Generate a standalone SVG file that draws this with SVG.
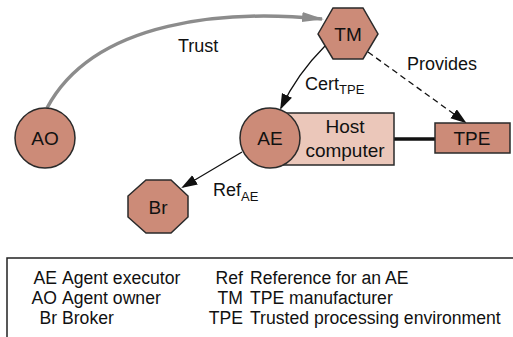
<svg xmlns="http://www.w3.org/2000/svg" width="513" height="337" viewBox="0 0 513 337">
<style>
  text { font-family: "Liberation Sans", Arial, sans-serif; fill: #111; }
  .node { fill: #cc8b78; stroke: #2a2a2a; stroke-width: 1.5; }
  .host { fill: #ebc7ba; stroke: #2a2a2a; stroke-width: 1.5; }
  .nl { font-size: 19px; text-anchor: middle; }
  .lbl { font-size: 18px; }
  .sub { font-size: 13px; }
  .leg { font-size: 17.6px; }
  .abbr { font-size: 17.6px; text-anchor: end; }
  .edge { fill: none; stroke: #111; stroke-width: 1.3; }
</style>
<defs>
  <marker id="ah" markerUnits="userSpaceOnUse" markerWidth="16" markerHeight="12" refX="14" refY="5.5" orient="auto">
    <path d="M0,0 L16,5.5 L0,11 z" fill="#111"/>
  </marker>
  <marker id="ahg" markerUnits="userSpaceOnUse" markerWidth="22" markerHeight="12" refX="20" refY="5" orient="auto">
    <path d="M0,0 L22,5 L0,10 z" fill="#8c8c8c"/>
  </marker>
</defs>

<g id="connectors">
  <path id="trust" d="M47,108 C95,18 230,10 322,19" fill="none" stroke="#8c8c8c" stroke-width="3.5" marker-end="url(#ahg)"/>
  <path id="cert" class="edge" d="M325,46 Q297,74 281,108" marker-end="url(#ah)"/>
  <path id="provides" class="edge" d="M368,52 L465,122" stroke-dasharray="6,4" marker-end="url(#ah)"/>
  <path id="ref" class="edge" d="M242,152 L183,187" marker-end="url(#ah)"/>
  <line id="host-tpe" x1="394" y1="139" x2="435" y2="139" stroke="#111" stroke-width="3.5"/>
</g>

<g id="labels">
  <text class="lbl" x="178" y="52">Trust</text>
  <text class="lbl" x="305" y="90">Cert<tspan class="sub" dy="4">TPE</tspan></text>
  <text class="lbl" x="407" y="70">Provides</text>
  <text class="lbl" x="213" y="196">Ref<tspan class="sub" dy="5">AE</tspan></text>
</g>

<g id="host">
  <rect class="host" x="283" y="113" width="111" height="52"/>
  <text class="nl" x="345" y="133">Host</text>
  <text class="nl" x="345" y="157">computer</text>
</g>

<g id="AO">
  <circle class="node" cx="45" cy="138" r="30"/>
  <text class="nl" x="45" y="145">AO</text>
</g>

<g id="AE">
  <circle class="node" cx="270" cy="138" r="30"/>
  <text class="nl" x="270" y="145">AE</text>
</g>

<g id="TM">
  <polygon class="node" points="318,34 333,8 363,8 378,34 363,59 333,59"/>
  <text class="nl" x="348" y="41">TM</text>
</g>

<g id="TPE">
  <rect class="node" x="435" y="123" width="75" height="30"/>
  <text class="nl" x="472" y="145">TPE</text>
</g>

<g id="Br">
  <polygon class="node" points="146,180 171,180 188,196 188,217 171,233 146,233 128,217 128,196"/>
  <text class="nl" x="158" y="214">Br</text>
</g>

<g id="legend">
  <path d="M7,337 L7,258 L513,258" fill="none" stroke="#222" stroke-width="1.5"/>
  <text class="abbr" x="57" y="284">AE</text>
  <text class="leg" x="62" y="284">Agent executor</text>
  <text class="abbr" x="57" y="304">AO</text>
  <text class="leg" x="62" y="304">Agent owner</text>
  <text class="abbr" x="57" y="324">Br</text>
  <text class="leg" x="62" y="324">Broker</text>
  <text class="abbr" x="243" y="284">Ref</text>
  <text class="leg" x="250" y="284">Reference for an AE</text>
  <text class="abbr" x="243" y="304">TM</text>
  <text class="leg" x="250" y="304">TPE manufacturer</text>
  <text class="abbr" x="243" y="324">TPE</text>
  <text class="leg" x="250" y="324">Trusted processing environment</text>
</g>
</svg>
